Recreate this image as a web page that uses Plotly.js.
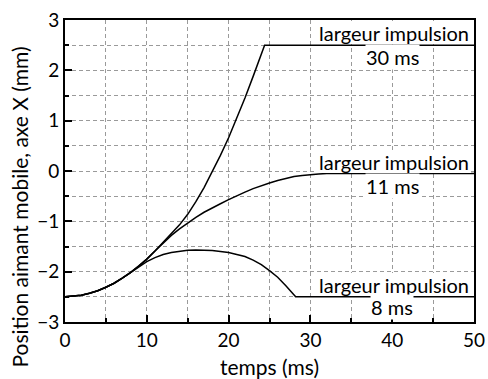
<!DOCTYPE html>
<html>
<head>
<meta charset="utf-8">
<script src="https://cdn.plot.ly/plotly-3.0.1.min.js"></script>
<style>html,body{margin:0;padding:0;background:#fff;}</style>
</head>
<body>
<div id="chart" style="width:488px;height:379px;"></div>
<script>
// Pulse width 30 ms
const t30 = [0, 1, 2, 3, 4, 5, 6, 7, 8, 9, 10, 11, 12, 13, 14, 15, 16, 17, 18, 19, 20, 21, 22, 23, 24, 24.4, 50];
const y30 = [-2.5, -2.49, -2.47, -2.43, -2.38, -2.31, -2.23, -2.13, -2.02, -1.89, -1.75, -1.59, -1.42, -1.25, -1.07, -0.86, -0.61, -0.33, -0.02, 0.31, 0.66, 1.04, 1.45, 1.88, 2.32, 2.5, 2.5];
// Pulse width 11 ms
const t11 = [0, 1, 2, 3, 4, 5, 6, 7, 8, 9, 10, 11, 12, 13, 14, 15, 16, 17, 18, 19, 20, 21, 22, 23, 24, 25, 26, 27, 28, 29, 30, 31, 32, 50];
const y11 = [-2.5, -2.49, -2.47, -2.43, -2.38, -2.31, -2.23, -2.13, -2.02, -1.89, -1.75, -1.59, -1.43, -1.28, -1.15, -1.03, -0.92, -0.82, -0.73, -0.65, -0.57, -0.49, -0.42, -0.35, -0.29, -0.24, -0.19, -0.15, -0.11, -0.09, -0.07, -0.06, -0.05, -0.05];
// Pulse width 8 ms
const t8 = [0, 1, 2, 3, 4, 5, 6, 7, 8, 9, 10, 11, 12, 13, 14, 15, 16, 17, 18, 19, 20, 21, 22, 23, 24, 25, 26, 27, 28.2, 50];
const y8 = [-2.5, -2.49, -2.47, -2.43, -2.38, -2.31, -2.23, -2.13, -2.02, -1.90, -1.80, -1.72, -1.66, -1.62, -1.59, -1.575, -1.57, -1.57, -1.58, -1.60, -1.62, -1.66, -1.70, -1.77, -1.86, -1.98, -2.11, -2.28, -2.5, -2.5];

const seriesNames = ["30 ms", "11 ms", "8 ms"];
const labelTop = "largeur impulsion";
const xTitle = "temps (ms)";
const yTitle = "Position aimant mobile, axe X (mm)";

const FONT = "Lato, 'Open Sans', sans-serif";
const lineStyle = {color: "#000", width: 1.5};

const traces = [
  {x: t30, y: y30, name: seriesNames[0], mode: "lines", line: lineStyle},
  {x: t11, y: y11, name: seriesNames[1], mode: "lines", line: lineStyle},
  {x: t8, y: y8, name: seriesNames[2], mode: "lines", line: lineStyle}
];

const plateaus = [y30[y30.length - 1], y11[y11.length - 1], y8[y8.length - 1]];
const numY = [2.27, -0.30, -2.70];

const annotations = [];
plateaus.forEach((p, i) => {
  annotations.push({
    x: 40.2, y: p, xref: "x", yref: "y", xanchor: "center", yanchor: "bottom",
    yshift: 1, width: 154, height: 23, bgcolor: "#fff", borderpad: 0, borderwidth: 0,
    showarrow: false, text: labelTop, font: {family: FONT, size: 20, color: "#000"}
  });
  annotations.push({
    x: 40.0, y: numY[i], xref: "x", yref: "y", xanchor: "center", yanchor: "middle",
    bgcolor: "#fff", borderpad: 0, showarrow: false, text: seriesNames[i],
    font: {family: FONT, size: 20, color: "#000"}
  });
});
annotations.push({
  x: -0.112, y: 0.38, xref: "paper", yref: "paper", xanchor: "center", yanchor: "middle",
  textangle: -90, showarrow: false, text: yTitle,
  font: {family: FONT, size: 21, color: "#000"}
});

const gridDash = "4px,3px";
const axisCommon = {
  showline: true, linecolor: "#000", linewidth: 2, mirror: true,
  ticks: "inside", ticklen: 7, tickwidth: 2, tickcolor: "#000",
  showgrid: true, gridcolor: "#9a9a9a", gridwidth: 1, griddash: gridDash,
  zeroline: false,
  tickfont: {family: FONT, size: 19, color: "#000"}
};

const layout = {
  width: 488, height: 379,
  margin: {l: 65, r: 14, t: 20, b: 57},
  paper_bgcolor: "#fff", plot_bgcolor: "#fff",
  showlegend: false,
  font: {family: FONT, color: "#000"},
  xaxis: Object.assign({}, axisCommon, {
    range: [0, 50], tick0: 0, dtick: 10,
    minor: {dtick: 5, ticks: "inside", ticklen: 4, tickwidth: 2, tickcolor: "#000",
            showgrid: true, gridcolor: "#9a9a9a", gridwidth: 1, griddash: gridDash},
    title: {text: xTitle, font: {family: FONT, size: 21, color: "#000"}, standoff: 14}
  }),
  yaxis: Object.assign({}, axisCommon, {
    range: [-3, 3], tick0: -3, dtick: 1,
    minor: {dtick: 0.5, ticks: "inside", ticklen: 4, tickwidth: 2, tickcolor: "#000",
            showgrid: true, gridcolor: "#9a9a9a", gridwidth: 1, griddash: gridDash}
  }),
  annotations: annotations
};

Plotly.newPlot("chart", traces, layout, {displayModeBar: false, staticPlot: true});
</script>
</body>
</html>
